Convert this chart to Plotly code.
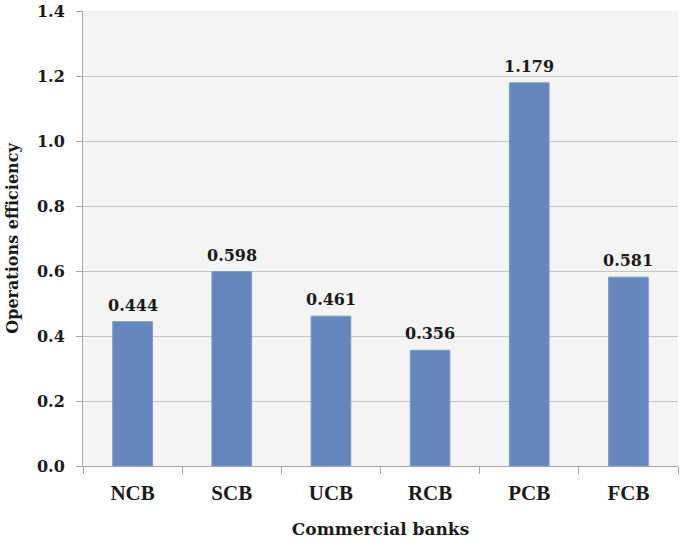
import plotly.graph_objects as go

categories = ["NCB", "SCB", "UCB", "RCB", "PCB", "FCB"]
values = [0.444, 0.598, 0.461, 0.356, 1.179, 0.581]
value_labels = ["0.444", "0.598", "0.461", "0.356", "1.179", "0.581"]
y_ticks = [0.0, 0.2, 0.4, 0.6, 0.8, 1.0, 1.2, 1.4]
y_tick_labels = ["0.0", "0.2", "0.4", "0.6", "0.8", "1.0", "1.2", "1.4"]

num_font = "DejaVu Serif"
txt_font = "Liberation Serif"
ink = "#1a1a1a"

fig = go.Figure(go.Bar(
    x=categories, y=values,
    marker=dict(color="#6488bd", line=dict(width=1, color="#7a99c8")),
    hoverinfo="x+y",
))

for c, v, t in zip(categories, values, value_labels):
    fig.add_annotation(
        x=c, y=v, text="<b>" + t + "</b>", showarrow=False,
        xanchor="center", yanchor="bottom", yshift=5,
        font=dict(family=num_font, size=16, color=ink),
    )

fig.update_layout(
    width=685, height=544,
    margin=dict(l=83, r=7, t=11, b=78),
    paper_bgcolor="white", plot_bgcolor="#f4f4f4",
    bargap=0.6, showlegend=False,
    xaxis=dict(
        title=dict(text="<b>Commercial banks</b>", font=dict(family=num_font, size=17, color=ink), standoff=18),
        tickfont=dict(family=txt_font, size=21, color=ink),
        tickprefix="<b>", ticksuffix="</b>",
        showline=True, linecolor="#a8a8a8", linewidth=1,
        ticks="outside", ticklen=7, tickcolor="#a8a8a8", ticklabelstandoff=8,
        tickson="boundaries", showgrid=False, automargin=False,
    ),
    yaxis=dict(
        title=dict(text="<b>Operations efficiency</b>", font=dict(family=num_font, size=16, color=ink), standoff=14),
        range=[0, 1.4], tickvals=y_ticks, ticktext=["<b>" + t + "</b>" for t in y_tick_labels],
        tickfont=dict(family=num_font, size=16, color=ink),
        showline=True, linecolor="#a8a8a8", linewidth=1,
        ticks="outside", ticklen=6, tickcolor="#a8a8a8", ticklabelstandoff=8,
        ticklabeloverflow="allow",
        gridcolor="#c4c4c4", gridwidth=1, zeroline=False, automargin=False,
    ),
)

fig.write_html("out.html", config={"displayModeBar": False},
               post_script="document.body.style.margin='0';")
